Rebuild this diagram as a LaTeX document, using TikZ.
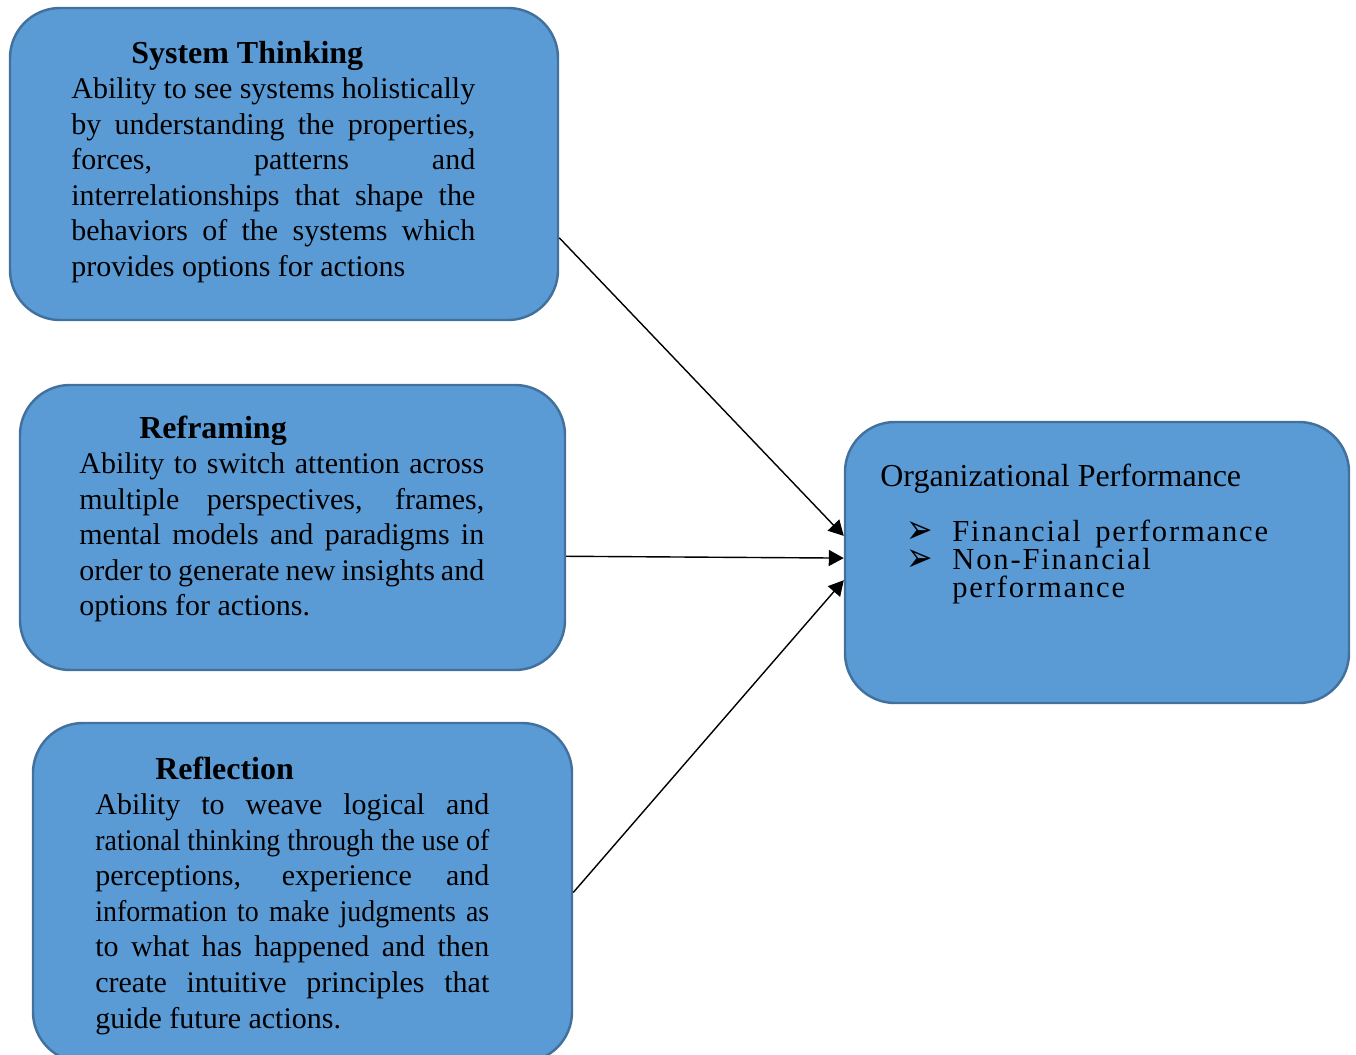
\documentclass[tikz,border=0pt]{standalone}
\usepackage{fontspec}
\setmainfont{Liberation Serif}
\newfontfamily\symfont{DejaVu Sans}
\newfontfamily\narrowserif[FakeStretch=0.93]{Liberation Serif}
\newfontfamily\spacedserif[LetterSpace=6]{Liberation Serif}
\usepackage{tikz}
\usetikzlibrary{arrows.meta,fit}
\definecolor{boxblue}{HTML}{5B9BD5}
\definecolor{boxedge}{HTML}{41719C}
\tikzset{
  box/.style={draw=boxedge,fill=boxblue,line width=1.4pt,rounded corners=1cm,inner sep=0pt},
  body/.style={anchor=base west,inner sep=0pt,text width=#1,align=justify,
    font=\fontsize{17.07}{20.26}\selectfont},
  titletext/.style={anchor=base west,inner sep=0pt,font=\fontsize{18.2}{20}\selectfont},
  itemtext/.style={anchor=base west,inner sep=0pt,font=\fontsize{17.4}{16}\spacedserif},
  bullet/.style={anchor=base west,inner sep=0pt,font=\fontsize{18}{16}\symfont},
  arr/.style={line width=0.8pt,-{Triangle[length=3mm,width=3.2mm]}}
}
\newcommand{\boxhead}[1]{{\fontsize{18.2}{20.26}\selectfont\bfseries\hspace*{1.2cm}#1\par}}
\newcommand{\arrowbul}{\smash{\scalebox{1}[1.3]{➢}}}

\begin{document}
\begin{tikzpicture}[x=0.02cm,y=-0.02cm]
\useasboundingbox (0,0) rectangle (1356,1055);
\node[box,fit={(10,8) (558,320)}] (sys) {};
\node[box,fit={(20,385) (565,670)}] (ref) {};
\node[box,fit={(33,723) (572,1062)}] (refl) {};
\node[box,fit={(845,422) (1349,703)}] (org) {};

\node[body=8.08cm] (systext) at (71,63) {\boxhead{System Thinking}
Ability to see systems holistically\linebreak
by understanding the properties,\linebreak
forces, patterns and\linebreak
interrelationships that shape the\linebreak
behaviors of the systems which\linebreak
provides options for actions};

\node[body=8.1cm] (reftext) at (79,438) {\boxhead{Reframing}
Ability to switch attention across\linebreak
multiple perspectives, frames,\linebreak
mental models and paradigms in\linebreak
order to generate new insights and\linebreak
options for actions.};

\node[body=7.88cm] (refltext) at (95,779) {\boxhead{Reflection}
Ability to weave logical and\linebreak
{\narrowserif rational thinking through the use of}\linebreak
perceptions, experience and\linebreak
{\narrowserif information to make judgments as}\linebreak
to what has happened and then\linebreak
create intuitive principles that\linebreak
guide future actions.};

\node[titletext] (orgtitle) at (880,486) {Organizational Performance};
\node[bullet] (finbul) at (906,543) {\arrowbul};
\node[itemtext] (fin) at (952,541) {Financial\, performance};
\node[bullet] (nonfinbul) at (906,571) {\arrowbul};
\node[itemtext] (nonfin) at (952,569) {Non-Financial};
\node[itemtext] (nonfinb) at (952,597) {performance};

\draw[arr] (sys.-15) -- (org.174);
\draw[arr] (ref.-6) -- (org.179.5);
\draw[arr] (refl.east) -- (org.-176);
\end{tikzpicture}
\end{document}
